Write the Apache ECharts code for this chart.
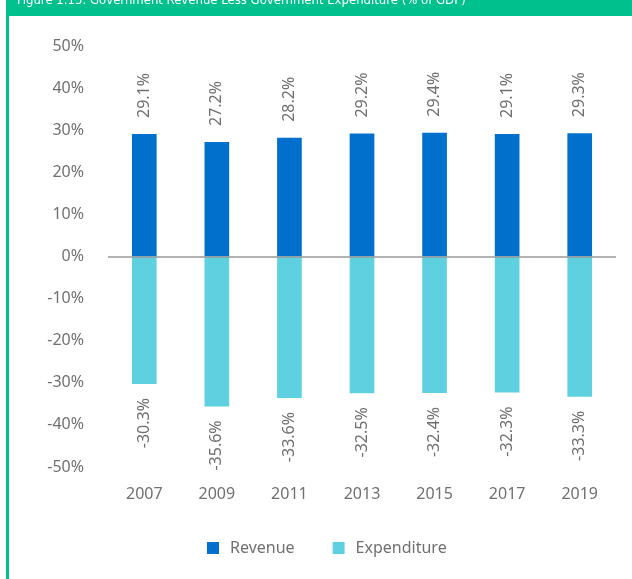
<!DOCTYPE html>
<html>
<head>
<meta charset="utf-8">
<script src="https://cdn.jsdelivr.net/npm/echarts@6/dist/echarts.min.js"></script>
<style>
  html, body { margin: 0; padding: 0; background: #fff; }
  #chart { width: 632px; height: 579px; }
</style>
</head>
<body>
<div id="chart"></div>
<script>
// 数据
const years = ['2007', '2009', '2011', '2013', '2015', '2017', '2019']
const revenue = [29.1, 27.2, 28.2, 29.2, 29.4, 29.1, 29.3]
const expenditure = [-30.3, -35.6, -33.6, -32.5, -32.4, -32.3, -33.3]
const title = 'Figure 1.15: Government Revenue Less Government Expenditure (% of GDP)'

const textColor = '#707070'
const font = 'Noto Sans'

const myChart = echarts.init(document.getElementById('chart'))
const option = {
  animation: false,
  textStyle: { fontFamily: font },
  graphic: [
    { type: 'rect', left: 6, top: 0, shape: { width: 626, height: 16 }, style: { fill: '#00c08d' } },
    { type: 'rect', left: 6, top: 0, shape: { width: 3, height: 579 }, style: { fill: '#00c08d' } },
    {
      type: 'text', left: 17, top: -6,
      style: { text: title, fill: '#fff', font: '13px "DejaVu Sans Condensed", "Noto Sans"' }
    }
  ],
  grid: { left: 108, right: 16, top: 46, bottom: 112 },
  legend: {
    left: 202, top: 535,
    itemWidth: 12, itemHeight: 12, itemGap: 38,
    icon: 'rect',
    textStyle: { color: textColor, fontSize: 16, fontFamily: font, padding: [0, 0, 0, 6] },
    data: ['Revenue', 'Expenditure']
  },
  xAxis: {
    type: 'category',
    data: years,
    axisLine: { show: false, onZero: false },
    axisTick: { show: false },
    axisLabel: { color: textColor, fontSize: 16, margin: 19 }
  },
  yAxis: {
    type: 'value',
    min: -50, max: 50, interval: 10,
    axisLine: { show: false },
    axisTick: { show: false },
    splitLine: { show: false },
    axisLabel: { color: textColor, fontSize: 16, margin: 24, formatter: v => v + '%' }
  },
  series: [
    {
      name: 'Revenue',
      type: 'bar',
      stack: 'total',
      barWidth: '34%',
      itemStyle: { color: '#0070cc' },
      label: {
        show: true, position: 'top', rotate: 90, align: 'left', verticalAlign: 'middle',
        distance: 16, color: textColor, fontSize: 16, formatter: p => p.value.toFixed(1) + '%'
      },
      markLine: {
        silent: true, symbol: 'none', label: { show: false },
        lineStyle: { color: '#999', width: 1.5, type: 'solid' },
        data: [{ yAxis: 0 }]
      },
      data: revenue
    },
    {
      name: 'Expenditure',
      type: 'bar',
      stack: 'total',
      barWidth: '34%',
      itemStyle: { color: '#5ed0e0' },
      label: {
        show: true, position: 'bottom', rotate: 90, align: 'right', verticalAlign: 'middle',
        distance: 14, color: textColor, fontSize: 16, formatter: p => p.value.toFixed(1) + '%'
      },
      data: expenditure
    }
  ]
}
myChart.setOption(option)
window.addEventListener('resize', myChart.resize)
</script>
</body>
</html>
